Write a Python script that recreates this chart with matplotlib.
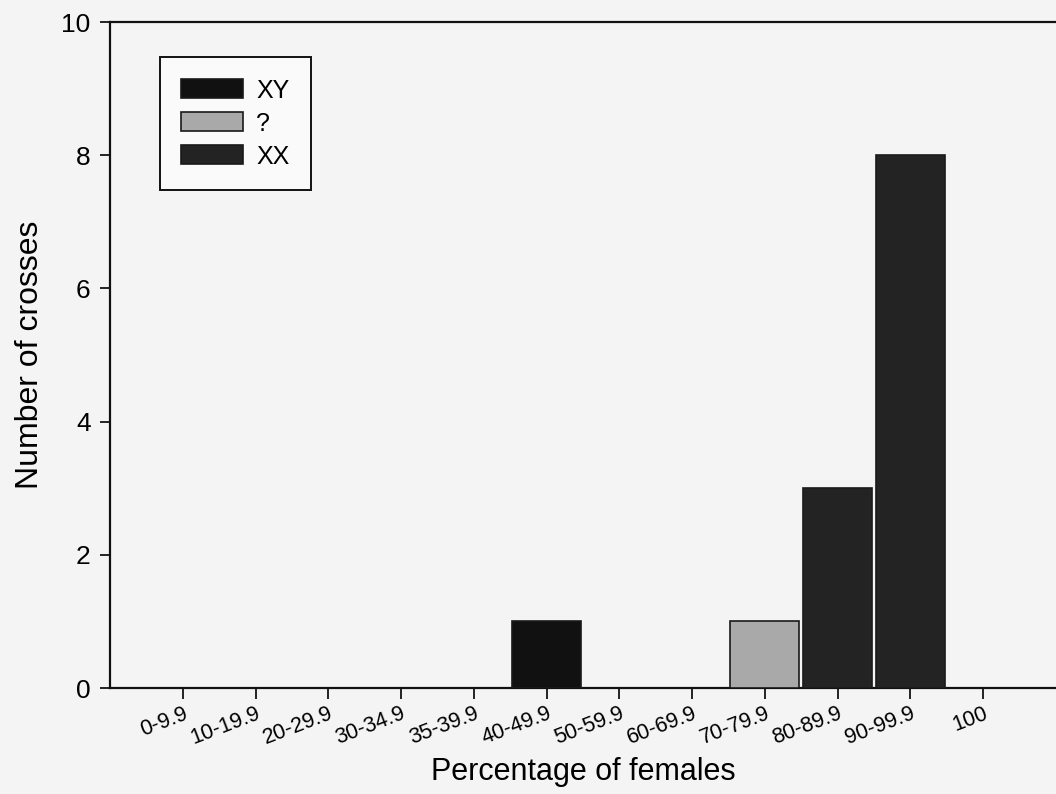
import matplotlib
matplotlib.use("Agg")
import matplotlib.pyplot as plt
from matplotlib.patches import Patch
import numpy as np

plt.rcParams['font.family'] = ['Liberation Sans', 'DejaVu Sans']

# Percentage-of-females classes and number of crosses per sex genotype
categories = ['0-9.9', '10-19.9', '20-29.9', '30-34.9', '35-39.9', '40-49.9',
              '50-59.9', '60-69.9', '70-79.9', '80-89.9', '90-99.9', '100']
xy_counts = [0, 0, 0, 0, 0, 1, 0, 0, 0, 0, 0, 0]
unknown_counts = [0, 0, 0, 0, 0, 0, 0, 0, 1, 0, 0, 0]
xx_counts = [0, 0, 0, 0, 0, 0, 0, 0, 0, 3, 8, 0]
series_labels = ['XY', '?', 'XX']
y_ticks = [0, 2, 4, 6, 8, 10]

colors = ['#111111', '#a9a9a9', '#232323']
bg = '#f4f4f4'

fig = plt.figure(figsize=(10.56, 7.94), dpi=100, facecolor=bg)
ax = fig.add_axes([110 / 1056, 106 / 794, 946 / 1056, 666 / 794], facecolor=bg)

x = np.arange(len(categories))
for counts, color in zip([xy_counts, unknown_counts, xx_counts], colors):
    vals = np.array(counts, dtype=float)
    mask = vals > 0
    ax.bar(x[mask], vals[mask], width=0.95, color=color,
           edgecolor='#1a1a1a', linewidth=1.2, zorder=3)

ax.set_xlim(-1, 12)
ax.set_ylim(0, 10)
ax.set_yticks(y_ticks)
ax.set_xticks(x)
ax.set_xticklabels(categories, rotation=21, ha='right', rotation_mode='anchor',
                   fontsize=15.5)
ax.tick_params(axis='y', labelsize=19, length=7, width=1.2, pad=7, direction='out')
ax.tick_params(axis='x', length=8, width=1.2, pad=3, direction='out')

for side in ['left', 'bottom', 'top']:
    ax.spines[side].set_linewidth(1.6)
    ax.spines[side].set_color('#111111')
ax.spines['right'].set_visible(False)

ax.set_ylabel('Number of crosses', fontsize=23, labelpad=12)
ax.set_xlabel('Percentage of females', fontsize=22, labelpad=6)

handles = [Patch(facecolor=c, edgecolor='#1a1a1a', linewidth=1.2) for c in colors]
leg = ax.legend(handles, series_labels, loc='upper left',
                bbox_to_anchor=(0.053, 0.947), fontsize=18,
                handlelength=2.45, handleheight=0.8, handletextpad=0.55,
                labelspacing=0.36, borderpad=0.85, borderaxespad=0,
                fancybox=False, framealpha=1, facecolor='#fafafa',
                edgecolor='#111111')
leg.get_frame().set_linewidth(1.4)

fig.savefig('out.png', dpi=100, facecolor=bg)
